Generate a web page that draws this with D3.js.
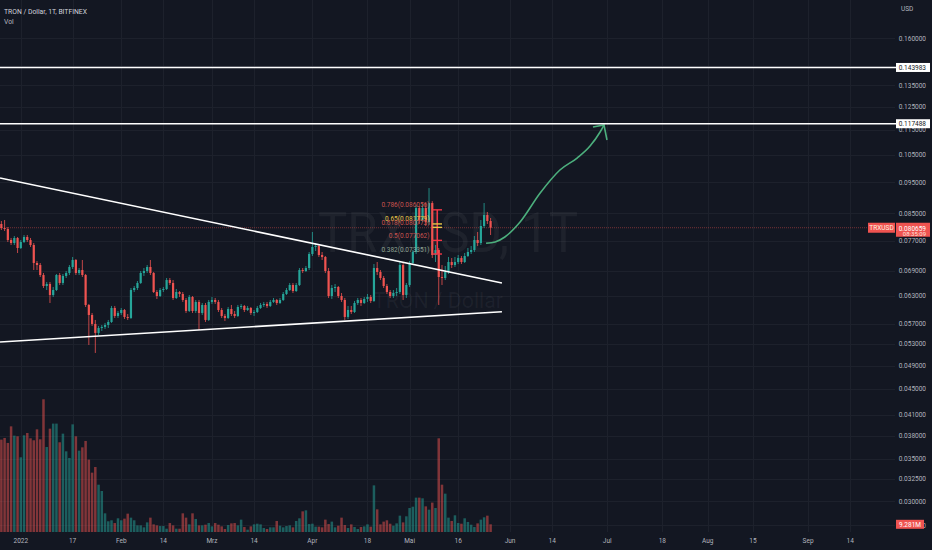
<!DOCTYPE html>
<html lang="de">
<head>
<meta charset="UTF-8">
<script src="https://cdn.jsdelivr.net/npm/d3@7"></script>
<title>TRON / Dollar, 1T, BITFINEX</title>
<style>
    html, body { margin: 0; padding: 0; background: #131722; overflow: hidden; }
    svg { display: block; font-family: Roboto, "Liberation Sans", sans-serif; }
</style>
</head>
<body>
<svg id="chart" width="932" height="550"></svg>
<script>
    // daily candles, 26 Dec 2021 .. 26 May 2022 (open = previous close)
    const firstDay = Date.UTC(2021, 11, 26);
    const firstOpen = 0.08176;

    const closes = [
        .08058, .08029, .07716, .07633, .07773, .07496, .07661, .07801, .07716, .07578,
        .07101, .07049, .06799, .06534, .06582, .06325, .06440, .06799, .06606, .06775,
        .06849, .06999, .07178, .06849, .06923, .06799, .06101, .05884, .05696, .05514,
        .05614, .05635, .05675, .05737, .06035, .05863, .05927, .05991, .05842, .05821,
        .06440, .06487, .06606, .06849, .06898, .06999, .06849, .06394, .06302, .06440,
        .06464, .06677, .06606, .06257, .06394, .06348, .06212, .05970, .06280, .05970,
        .06168, .05927, .06101, .05779, .06168, .06212, .06168, .05991, .05863, .05821,
        .06013, .05905, .05863, .06057, .06079, .05991, .06035, .05927, .05948, .06035,
        .06101, .06123, .06079, .06168, .06212, .06145, .06212, .06348, .06440, .06558,
        .06417, .06558, .06923, .06898, .06973, .07336, .07524, .07551, .07309, .07257,
        .06898, .06302, .06487, .06511, .06302, .06212, .05842, .05991, .05948, .06145,
        .06212, .06145, .06235, .06280, .06190, .06973, .06874, .06726, .06534, .06394,
        .06302, .06371, .06394, .07049, .06325, .06558, .07101, .07389, .08662, .08295,
        .08662, .08235, .08820, .07309, .07442, .06750, .06726, .06874, .07126, .07049,
        .07126, .07230, .07126, .07283, .07389, .07442, .07716, .07633, .08117, .08446,
        .08265, .080659
    ];
    const highs = [
        .08265, .08295, .08088, .07773, .07829, .07801, .07716, .07857, .07857, .07773,
        .07633, .07152, .07101, .06849, .06629, .06629, .06511, .06824, .06849, .06824,
        .06898, .07049, .07257, .07204, .06973, .07178, .06824, .06123, .05927, .05779,
        .05655, .05675, .05717, .05779, .06079, .06079, .05970, .06035, .06013, .05905,
        .06487, .06534, .06653, .06898, .06973, .07049, .07178, .06874, .06440, .06487,
        .06511, .06726, .06726, .06677, .06464, .06417, .06394, .06257, .06325, .06302,
        .06212, .06212, .06145, .06145, .06212, .06280, .06257, .06212, .06035, .05905,
        .06057, .06101, .05970, .06101, .06123, .06101, .06079, .06057, .05991, .06079,
        .06145, .06168, .06168, .06212, .06257, .06235, .06257, .06394, .06487, .06606,
        .06606, .06606, .06973, .06973, .07024, .07389, .07943, .07633, .07578, .07389,
        .07283, .06973, .06558, .06582, .06534, .06371, .06257, .06079, .06079, .06190,
        .06257, .06257, .06280, .06348, .06325, .07075, .07126, .06923, .06775, .06582,
        .06440, .06440, .06487, .07126, .07101, .06606, .07152, .07442, .08757, .08725,
        .08788, .08820, .09310, .08880, .07578, .07496, .07049, .07024, .07257, .07230,
        .07257, .07309, .07283, .07362, .07496, .07551, .07829, .07943, .08295, .08820,
        .08538, .08355
    ];
    const lows = [
        .08000, .07971, .07661, .07578, .07578, .07362, .07469, .07633, .07661, .07524,
        .06923, .06923, .06750, .06487, .06440, .06145, .06280, .06417, .06558, .06558,
        .06726, .06799, .06948, .06799, .06799, .06750, .06057, .05279, .05655, .05129,
        .05474, .05554, .05594, .05614, .05717, .05821, .05821, .05884, .05800, .05779,
        .05800, .06394, .06440, .06582, .06775, .06849, .06799, .06371, .06235, .06280,
        .06394, .06440, .06558, .06212, .06235, .06280, .06168, .05927, .05948, .05927,
        .05927, .05574, .05884, .05737, .05758, .06123, .06123, .05948, .05821, .05758,
        .05800, .05863, .05821, .05842, .06013, .05948, .05970, .05884, .05863, .05927,
        .06013, .06057, .06035, .06057, .06145, .06101, .06123, .06190, .06325, .06417,
        .06371, .06394, .06534, .06849, .06874, .06923, .07283, .07415, .07257, .07178,
        .06849, .06257, .06235, .06394, .06257, .06168, .05779, .05800, .05905, .05927,
        .06101, .06079, .06123, .06168, .06145, .06168, .06799, .06677, .06487, .06348,
        .06257, .06257, .06302, .06348, .06212, .06257, .06511, .07049, .07336, .08176,
        .08235, .08117, .08146, .07230, .07126, .06101, .06558, .06677, .06824, .06973,
        .06999, .07075, .07075, .07101, .07257, .07336, .07389, .07551, .07578, .08058,
        .08176, .07857
    ];
    // volume in millions
    const volumes = [
        111.3, 113.3, 107.3, 127.3, 116.1, 115.3, 90.0, 116.5, 119.3, 112.9,
        110.5, 123.7, 111.7, 159.9, 102.4, 124.5, 130.6, 130.6, 108.1, 118.5,
        97.2, 89.2, 129.7, 115.3, 98.0, 102.0, 109.7, 87.2, 71.5, 78.3,
        57.0, 49.4, 22.5, 12.9, 14.1, 10.8, 16.5, 14.1, 16.1, 22.1,
        17.3, 14.1, 8.0, 8.0, 5.6, 11.6, 17.3, 9.2, 8.0, 7.2,
        7.2, 4.0, 10.8, 8.0, 4.0, 4.0, 22.5, 17.3, 9.2, 22.5,
        15.7, 8.0, 8.0, 8.8, 10.8, 6.8, 10.8, 8.8, 6.8, 3.6,
        8.4, 10.4, 10.8, 8.0, 14.9, 6.0, 2.8, 6.8, 9.2, 10.0,
        9.2, 4.8, 3.6, 5.6, 5.6, 13.3, 7.6, 5.6, 7.2, 8.0,
        5.6, 13.3, 16.5, 24.9, 26.1, 9.6, 10.0, 6.4, 6.4, 5.6,
        14.9, 9.6, 12.5, 5.6, 7.6, 17.3, 8.4, 4.8, 9.2, 6.0,
        3.6, 6.0, 6.8, 9.2, 6.4, 56.2, 27.3, 9.2, 12.5, 14.1,
        10.0, 7.6, 10.4, 19.7, 11.6, 18.9, 28.9, 30.5, 41.4, 41.4,
        40.6, 30.9, 26.9, 35.4, 28.9, 112.9, 57.0, 46.2, 17.3, 13.3,
        20.1, 10.8, 10.0, 16.5, 12.1, 8.8, 6.0, 10.4, 14.9, 17.7,
        19.7, 9.281
    ];

    const priceTicks = [0.16, 0.145, 0.135, 0.125, 0.115, 0.105, 0.095, 0.085, 0.077, 0.069,
        0.063, 0.057, 0.053, 0.049, 0.045, 0.041, 0.038, 0.035, 0.0325, 0.03, 0.0275];
    const dateTicks = ["2022-01-01", "2022-01-17", "2022-02-01", "2022-02-14", "2022-03-01", "2022-03-14",
        "2022-04-01", "2022-04-18", "2022-05-01", "2022-05-16", "2022-06-01", "2022-06-14",
        "2022-07-01", "2022-07-18", "2022-08-01", "2022-08-15", "2022-09-01", "2022-09-14"];
    const dateLabels = ["2022", "17", "Feb", "14", "Mrz", "14", "Apr", "18", "Mai", "16",
        "Jun", "14", "Jul", "18", "Aug", "15", "Sep", "14"];

    // drawings
    const levelLines = [0.143983, 0.117488];
    const upperTrend = [["2021-12-25T14:00Z", 0.09656], ["2022-05-29T12:00Z", 0.06606]];
    const lowerTrend = [["2021-12-25T14:00Z", 0.05337], ["2022-05-29T12:00Z", 0.05954]];
    const fibRatios = [0.786, 0.65, 0.618, 0.5, 0.382];
    const fibPrices = [0.086056, 0.081779, 0.080773, 0.077062, 0.073351];
    const fibColors = ["#c9534f", "#e8c547", "#c9534f", "#c9534f", "#8fa394"];
    const fibLineColors = ["#f23645", "#e8c547", "#e8c547", "#f23645", "#f23645"];
    const fibSpan = ["2022-05-08T02:00Z", "2022-05-11T00:00Z"];
    // arrow path: days after 1 Jan 2022, price
    const arrowDays = [143.6, 146.4, 149.4, 154.1, 160.3, 166.4, 171.7, 175.7, 178.8, 180.0];
    const arrowPrices = [0.07625, 0.07661, 0.07801, 0.08235, 0.09145, 0.09938, 0.10378, 0.10839, 0.11402, 0.11694];

    const lastPrice = 0.080659;
    const countdown = "08:35:09";
    const lastVolume = "9.281M";

    const DAY = 86400000;
    const W = 932, H = 550, chartRight = 895, volBase = 532;
    const red = "#ef5350", green = "#26a69a";

    const candles = closes.map((c, i) => {
        const open = i === 0 ? firstOpen : closes[i - 1];
        return {
            date: new Date(firstDay + i * DAY),
            open: open,
            close: c,
            high: Math.max(highs[i], open, c),
            low: Math.min(lows[i], open, c),
            volume: volumes[i]
        };
    });

    const x = d3.scaleUtc()
        .domain([new Date("2022-01-01"), new Date("2022-09-01")])
        .range([20.8, 808.1]);
    const y = d3.scaleLog()
        .domain([0.16, 0.03])
        .range([38.3, 501.3]);
    const yVol = d3.scaleLinear()
        .domain([0, 160])
        .range([volBase, volBase - 132.8]);
    const dayX = d => x(new Date(Date.UTC(2022, 0, 1) + d * DAY));

    const svg = d3.select("#chart");
    svg.append("rect").attr("width", W).attr("height", H).attr("fill", "#131722");

    // grid
    const grid = svg.append("g").attr("stroke", "#1d212c").attr("shape-rendering", "crispEdges");
    grid.selectAll(".h").data(priceTicks).enter().append("line")
        .attr("x1", 0).attr("x2", chartRight)
        .attr("y1", d => Math.round(y(d)) + 0.5).attr("y2", d => Math.round(y(d)) + 0.5);
    grid.selectAll(".v").data(dateTicks).enter().append("line")
        .attr("y1", 0).attr("y2", volBase)
        .attr("x1", d => Math.round(x(new Date(d))) + 0.5).attr("x2", d => Math.round(x(new Date(d))) + 0.5);

    // watermark
    svg.append("text")
        .attr("x", 448).attr("y", 252)
        .attr("text-anchor", "middle")
        .attr("font-size", 55)
        .attr("textLength", 260).attr("lengthAdjust", "spacingAndGlyphs")
        .attr("fill", "#b2b5be").attr("fill-opacity", 0.07)
        .text("TRXUSD, 1T");
    svg.append("text")
        .attr("x", 438).attr("y", 308)
        .attr("text-anchor", "middle")
        .attr("font-size", 22)
        .attr("textLength", 130).attr("lengthAdjust", "spacingAndGlyphs")
        .attr("fill", "#b2b5be").attr("fill-opacity", 0.07)
        .text("TRON / Dollar");

    // volume
    svg.append("g").selectAll("rect").data(candles).enter().append("rect")
        .attr("x", d => x(d.date) - 1.25)
        .attr("width", 2.5)
        .attr("y", d => yVol(d.volume))
        .attr("height", d => volBase - yVol(d.volume))
        .attr("fill", d => d.close >= d.open ? green : red)
        .attr("fill-opacity", 0.5);

    // current price line
    svg.append("line")
        .attr("x1", 0).attr("x2", 868)
        .attr("y1", y(lastPrice)).attr("y2", y(lastPrice))
        .attr("stroke", red).attr("stroke-opacity", 0.45)
        .attr("stroke-width", 1).attr("stroke-dasharray", "1,1");

    // candles
    const cg = svg.append("g");
    cg.selectAll("line").data(candles).enter().append("line")
        .attr("x1", d => x(d.date)).attr("x2", d => x(d.date))
        .attr("y1", d => y(d.high)).attr("y2", d => y(d.low))
        .attr("stroke", d => d.close >= d.open ? green : red)
        .attr("stroke-width", 0.8);
    cg.selectAll("rect").data(candles).enter().append("rect")
        .attr("x", d => x(d.date) - 1.1)
        .attr("width", 2.2)
        .attr("y", d => y(Math.max(d.open, d.close)))
        .attr("height", d => Math.max(0.8, Math.abs(y(d.open) - y(d.close))))
        .attr("fill", d => d.close >= d.open ? green : red);

    // trend lines
    [upperTrend, lowerTrend].forEach(t => {
        svg.append("line")
            .attr("x1", x(new Date(t[0][0]))).attr("y1", y(t[0][1]))
            .attr("x2", x(new Date(t[1][0]))).attr("y2", y(t[1][1]))
            .attr("stroke", "#ffffff").attr("stroke-width", 1.6);
    });

    // fibonacci
    const fx0 = x(new Date(fibSpan[0])), fx1 = x(new Date(fibSpan[1]));
    const fg = svg.append("g");
    fg.append("line")
        .attr("x1", (fx0 + fx1) / 2).attr("x2", (fx0 + fx1) / 2)
        .attr("y1", y(fibPrices[0])).attr("y2", y(fibPrices[4]))
        .attr("stroke", "#f23645").attr("stroke-width", 1.6);
    fg.selectAll("line.lvl").data(fibPrices).enter().append("line")
        .attr("x1", fx0).attr("x2", fx1)
        .attr("y1", d => y(d)).attr("y2", d => y(d))
        .attr("stroke", (d, i) => fibLineColors[i]).attr("stroke-width", 1.4);
    fg.selectAll("text").data(fibPrices).enter().append("text")
        .attr("x", fx0 - 3).attr("y", d => y(d) - 2.5)
        .attr("text-anchor", "end")
        .attr("font-size", 6.5)
        .attr("fill", (d, i) => fibColors[i])
        .text((d, i) => `${fibRatios[i]}(${d.toFixed(6)})`);

    // arrow
    const arrowPts = arrowDays.map((d, i) => [dayX(d), y(arrowPrices[i])]);
    svg.append("path")
        .attr("d", d3.line().curve(d3.curveMonotoneX)(arrowPts))
        .attr("fill", "none").attr("stroke", "#4caf7d").attr("stroke-width", 1.6);
    const tip = arrowPts[arrowPts.length - 1];
    svg.append("path")
        .attr("d", `M${tip[0] - 11},${tip[1] + 2}L${tip[0]},${tip[1]}L${tip[0] + 3},${tip[1] + 15}`)
        .attr("fill", "none").attr("stroke", "#4caf7d").attr("stroke-width", 1.6);

    // horizontal levels
    levelLines.forEach(v => {
        svg.append("line")
            .attr("x1", 0).attr("x2", 896)
            .attr("y1", y(v)).attr("y2", y(v))
            .attr("stroke", "#ffffff").attr("stroke-width", 1.6);
    });

    // price axis labels
    svg.append("g").selectAll("text").data(priceTicks).enter().append("text")
        .attr("x", 926).attr("y", d => y(d))
        .attr("dy", "0.35em")
        .attr("text-anchor", "end")
        .attr("font-size", 6.5)
        .attr("fill", "#b2b5be")
        .text(d => d.toFixed(6));
    svg.append("text").attr("x", 901).attr("y", 11).attr("font-size", 6.5)
        .attr("fill", "#b2b5be").text("USD");

    levelLines.forEach(v => {
        svg.append("rect")
            .attr("x", 896).attr("y", y(v) - 4.5).attr("width", 34).attr("height", 9)
            .attr("fill", "#ffffff");
        svg.append("text")
            .attr("x", 926).attr("y", y(v)).attr("dy", "0.35em")
            .attr("text-anchor", "end").attr("font-size", 6.5)
            .attr("fill", "#131722").text(v.toFixed(6));
    });

    // last price labels
    const yl = y(lastPrice);
    svg.append("rect").attr("x", 868).attr("y", yl - 5).attr("width", 27).attr("height", 10).attr("fill", red);
    svg.append("text").attr("x", 881.5).attr("y", yl).attr("dy", "0.35em")
        .attr("text-anchor", "middle").attr("font-size", 6.5).attr("fill", "#fff3e0").text("TRXUSD");
    svg.append("rect").attr("x", 896).attr("y", yl - 5).attr("width", 34).attr("height", 14).attr("fill", red);
    svg.append("text").attr("x", 926).attr("y", yl + 0.5).attr("dy", "0.35em")
        .attr("text-anchor", "end").attr("font-size", 6.5).attr("fill", "#ffffff").text(lastPrice.toFixed(6));
    svg.append("text").attr("x", 926).attr("y", yl + 6).attr("dy", "0.35em")
        .attr("text-anchor", "end").attr("font-size", 6).attr("fill", "#ffe0dc").text(countdown);

    const yv = yVol(volumes[volumes.length - 1]);
    svg.append("rect").attr("x", 896).attr("y", yv - 4.5).attr("width", 28).attr("height", 9).attr("fill", red);
    svg.append("text").attr("x", 910).attr("y", yv).attr("dy", "0.35em")
        .attr("text-anchor", "middle").attr("font-size", 6.5).attr("fill", "#ffffff").text(lastVolume);

    // date axis
    svg.append("g").selectAll("text").data(dateTicks).enter().append("text")
        .attr("x", d => x(new Date(d))).attr("y", 541)
        .attr("dy", "0.35em")
        .attr("text-anchor", "middle")
        .attr("font-size", 6.5)
        .attr("fill", "#b2b5be")
        .text((d, i) => dateLabels[i]);

    // legend
    svg.append("text").attr("x", 4).attr("y", 13.5).attr("font-size", 6.8)
        .attr("fill", "#d1d4dc").text("TRON / Dollar, 1T, BITFINEX");
    svg.append("text").attr("x", 4).attr("y", 24).attr("font-size", 6.8)
        .attr("fill", "#b2b5be").text("Vol");
</script>
</body>
</html>
